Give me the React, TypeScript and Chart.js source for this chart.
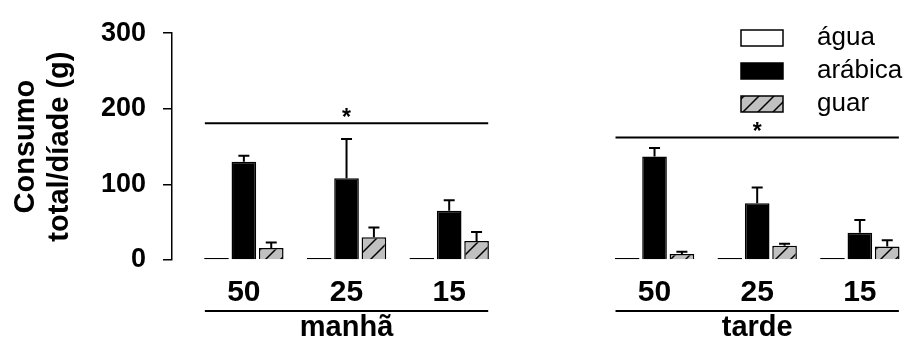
import React, { useEffect, useRef } from 'react';
import { Chart, registerables } from 'chart.js';

Chart.register(...registerables);

// ---------- data ----------
const periods = ['manhã', 'tarde'];
const doses = ['50', '25', '15'];
const seriesLabels = ['água', 'arábica', 'guar'];
const agua = [0, 0, 0, 0, 0, 0];
const arabica = [130, 108, 65, 137, 75, 36];
const arabicaErr = [8, 52, 14, 11, 21, 17];
const guar = [16, 30, 25, 8, 19, 18];
const guarErr = [7, 13, 12, 3, 2.5, 8];
const significance = [181, 162];
const yTicks = [0, 100, 200, 300];
const yTitle = ['Consumo', 'total/díade (g)'];

const FONT = '"Liberation Sans", Arial, Helvetica, sans-serif';

// x slots: three doses per period, one empty slot between the periods
const xPos = periods.flatMap((_, g) => doses.map((_, i) => g * 4 + i + 1));
const toPoints = (arr: number[]) => arr.map((y, i) => ({ x: xPos[i], y }));

function makeHatch(): CanvasPattern | string {
  const s = 15;
  const c = document.createElement('canvas');
  c.width = s;
  c.height = s;
  const g = c.getContext('2d');
  if (!g) return '#c0c0c0';
  g.fillStyle = '#c0c0c0';
  g.fillRect(0, 0, s, s);
  g.strokeStyle = '#000';
  g.lineWidth = 1.5;
  g.beginPath();
  g.moveTo(-2, s + 2);
  g.lineTo(s + 2, -2);
  g.moveTo(-3, 3);
  g.lineTo(3, -3);
  g.moveTo(s - 3, s + 3);
  g.lineTo(s + 3, s - 3);
  g.stroke();
  return g.createPattern(c, 'repeat') || '#c0c0c0';
}

const extras = {
  id: 'extras',
  afterDatasetsDraw(chart: any) {
    const { ctx } = chart;
    const y = chart.scales.y;
    ctx.save();
    ctx.strokeStyle = '#000';
    ctx.lineWidth = 2;
    chart.data.datasets.forEach((ds: any, di: number) => {
      if (!ds.errors) return;
      const meta = chart.getDatasetMeta(di);
      meta.data.forEach((el: any, i: number) => {
        const v = ds.data[i].y;
        const top = y.getPixelForValue(v + ds.errors[i]);
        ctx.beginPath();
        ctx.moveTo(el.x, el.y);
        ctx.lineTo(el.x, top);
        ctx.moveTo(el.x - 5.5, top);
        ctx.lineTo(el.x + 5.5, top);
        ctx.stroke();
      });
    });
    ctx.restore();
  },
  afterDraw(chart: any) {
    const { ctx, chartArea } = chart;
    const x = chart.scales.x;
    const y = chart.scales.y;
    ctx.save();
    ctx.fillStyle = '#000';
    ctx.strokeStyle = '#000';
    periods.forEach((p, g) => {
      const first = g * 4 + 1;
      const last = g * 4 + doses.length;
      const x1 = x.getPixelForValue(first - 0.38);
      const x2 = x.getPixelForValue(last + 0.38);
      const xc = x.getPixelForValue((first + last) / 2);
      // group underline + label
      const ly = chartArea.bottom + 51;
      ctx.lineWidth = 2;
      ctx.beginPath();
      ctx.moveTo(x1, ly);
      ctx.lineTo(x2, ly);
      ctx.stroke();
      ctx.font = `bold 29px ${FONT}`;
      ctx.textAlign = 'center';
      ctx.textBaseline = 'alphabetic';
      ctx.fillText(p, xc, chartArea.bottom + 76);
      // significance bar + star
      const sy = y.getPixelForValue(significance[g]);
      ctx.beginPath();
      ctx.moveTo(x1, sy);
      ctx.lineTo(x2, sy);
      ctx.stroke();
      ctx.font = `bold 23px ${FONT}`;
      ctx.fillText('*', xc, sy + 1.5);
    });
    // legend
    const bx = 741;
    const bw = 42;
    const bh = 16;
    chart.data.datasets.forEach((ds: any, i: number) => {
      const cy = 38 + i * 33;
      ctx.fillStyle = ds.backgroundColor;
      ctx.fillRect(bx, cy - bh / 2, bw, bh);
      ctx.lineWidth = 1.5;
      ctx.strokeStyle = '#000';
      ctx.strokeRect(bx, cy - bh / 2, bw, bh);
      ctx.fillStyle = '#000';
      ctx.font = `26px ${FONT}`;
      ctx.textAlign = 'left';
      ctx.textBaseline = 'middle';
      ctx.fillText(ds.label, 817, cy);
    });
    ctx.restore();
  },
};

export default function App() {
  const ref = useRef<HTMLCanvasElement | null>(null);
  useEffect(() => {
    if (!ref.current) return;
    const hatch = makeHatch();
    const chart = new Chart(ref.current, {
      type: 'bar',
      data: {
        datasets: [
          {
            label: seriesLabels[0],
            data: toPoints(agua),
            backgroundColor: '#ffffff',
            borderColor: '#000',
            borderWidth: 2,
            borderSkipped: false,
            minBarLength: 2,
            inflateAmount: 0,
            clip: false,
          } as any,
          {
            label: seriesLabels[1],
            data: toPoints(arabica),
            backgroundColor: '#000000',
            borderColor: '#000',
            borderWidth: 1.5,
            errors: arabicaErr,
          } as any,
          {
            label: seriesLabels[2],
            data: toPoints(guar),
            backgroundColor: hatch,
            borderColor: '#000',
            borderWidth: 1.5,
            errors: guarErr,
          } as any,
        ],
      },
      options: {
        responsive: true,
        maintainAspectRatio: false,
        animation: false,
        datasets: { bar: { categoryPercentage: 0.8, barPercentage: 0.9 } },
        layout: { padding: { left: 0, right: 2, top: 28, bottom: 0 } },
        plugins: { legend: { display: false }, tooltip: { enabled: false } },
        scales: {
          x: {
            type: 'linear',
            min: 0.3,
            max: 7.43,
            offset: false,
            grid: { display: false },
            border: { display: false },
            afterBuildTicks: (s: any) => {
              s.ticks = xPos.map((v) => ({ value: v }));
            },
            afterFit: (s: any) => {
              s.height = 89;
            },
            ticks: {
              callback: (_v: any, i: number) => doses[i % doses.length],
              font: { family: FONT, size: 30, weight: 'bold', lineHeight: 1.2 },
              color: '#000',
              padding: 7,
              maxRotation: 0,
              autoSkip: false,
            },
          },
          y: {
            min: 0,
            max: 300,
            afterBuildTicks: (s: any) => {
              s.ticks = yTicks.map((v) => ({ value: v }));
            },
            afterFit: (s: any) => {
              s.width = 172;
            },
            grid: { drawOnChartArea: false, drawTicks: true, tickLength: 9, color: '#000', lineWidth: 1.5 },
            border: { display: true, color: '#000', width: 1.5 },
            ticks: { font: { family: FONT, size: 27, weight: 'bold' }, color: '#000', padding: 17 },
            title: {
              display: true,
              text: yTitle,
              font: { family: FONT, size: 29, weight: 'bold', lineHeight: 1.18 },
              color: '#000',
              padding: { top: 9, bottom: 0 },
            },
          },
        },
      } as any,
      plugins: [extras],
    });
    return () => chart.destroy();
  }, []);
  return (
    <div style={{ position: 'absolute', left: 0, top: 0, width: 906, height: 349 }}>
      <canvas ref={ref} />
    </div>
  );
}
